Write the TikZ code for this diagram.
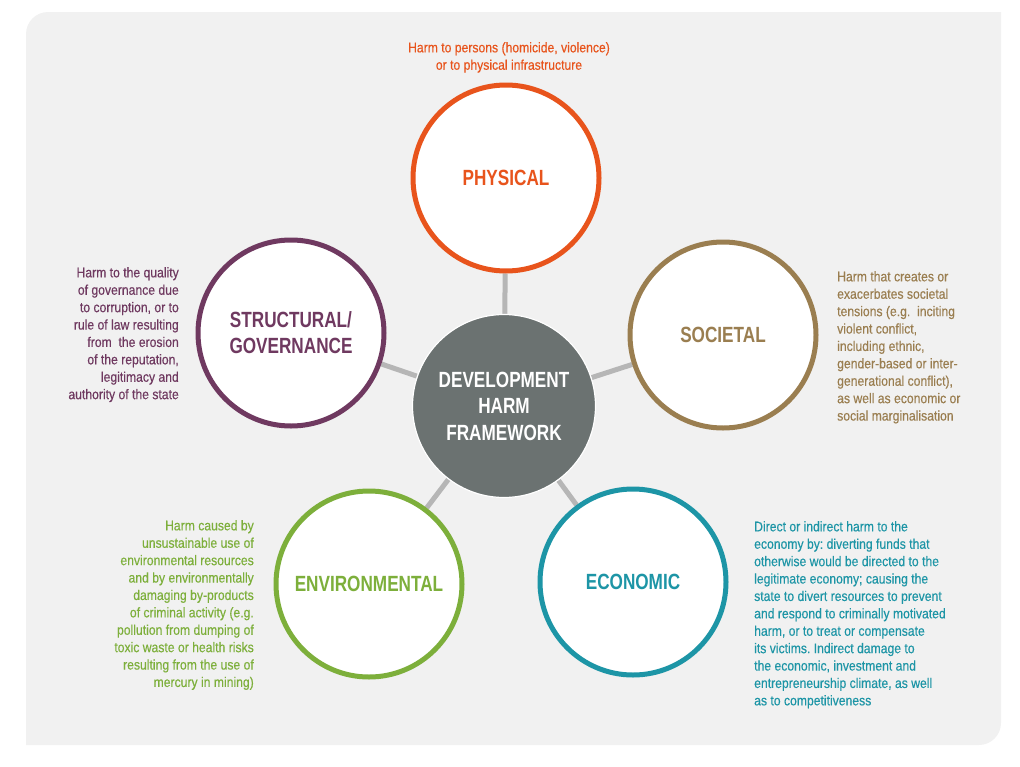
\documentclass[tikz,border=0pt]{standalone}
\usepackage{fontspec}
\setmainfont{Liberation Sans}[FakeStretch=0.87,FakeBold=0.35]
\newfontfamily\titlefont{Liberation Sans}[FakeStretch=0.78]
\usetikzlibrary{backgrounds}
\pgfdeclarelayer{back}
\pgfsetlayers{back,background,main}
\definecolor{bgcol}{HTML}{F1F1F1}
\definecolor{physcol}{HTML}{E8541C}
\definecolor{soccol}{HTML}{9A7E50}
\definecolor{ecocol}{HTML}{1D95A6}
\definecolor{envcol}{HTML}{7DAF3B}
\definecolor{strcol}{HTML}{6F3960}
\definecolor{midcol}{HTML}{6B7271}
\definecolor{spokecol}{HTML}{B6B6B6}
\frenchspacing
\begin{document}
\begin{tikzpicture}[x=1pt,y=-1pt,
  ring/.style={circle, draw=#1, text=#1, line width=5pt, fill=white,
    minimum size=186pt, inner sep=0pt, align=center,
    font=\titlefont\bfseries\fontsize{22}{26}\selectfont},
  hub/.style={circle, draw=white, fill=midcol, text=white, line width=1.2pt,
    minimum size=183pt, inner sep=0pt, align=center,
    font=\titlefont\bfseries\fontsize{22}{26.5}\selectfont},
  desc/.style={text=#1, inner sep=0pt, font=\fontsize{14}{17.4}\selectfont},
  spoke/.style={draw=spokecol, line width=5pt}]
\useasboundingbox (0,0) rectangle (1020,766);
\begin{pgfonlayer}{back}
\fill[bgcol] (26,745) -- (26,34) .. controls (26,21.85) and (35.85,12) .. (48,12)
  -- (1001,12) -- (1001,723) .. controls (1001,735.15) and (991.15,745) .. (979,745) -- cycle;
\end{pgfonlayer}

\node[hub] (c) at (504,406) {DEVELOPMENT\\HARM\\FRAMEWORK};
\node[ring=physcol] (p) at (506,178) {PHYSICAL};
\node[ring=soccol] (s) at (723,335) {SOCIETAL};
\node[ring=ecocol] (e) at (633,582) {ECONOMIC};
\node[ring=envcol] (v) at (369,584) {ENVIRONMENTAL};
\node[ring=strcol] (g) at (291,333) {STRUCTURAL/\\GOVERNANCE};

\begin{scope}[on background layer]
\draw[spoke] (c) -- (p);
\draw[spoke] (c) -- (s);
\draw[spoke] (c) -- (e);
\draw[spoke] (c) -- (v);
\draw[spoke] (c) -- (g);
\end{scope}

\node[desc=physcol, anchor=north, align=center] (pd) at (509,42)
  {Harm to persons (homicide, violence)\\or to physical infrastructure};
\node[desc=strcol, anchor=north east, align=right] (gd) at (179,267)
  {Harm to the quality\\of governance due\\to corruption, or to\\rule of law resulting\\from~ the erosion\\of the reputation,\\legitimacy and\\authority of the state};
\node[desc=soccol, anchor=north west, align=left] (sd) at (837,271)
  {Harm that creates or\\exacerbates societal\\tensions (e.g.~ inciting\\violent conflict,\\including ethnic,\\gender-based or inter-\\generational conflict),\\as well as economic or\\social marginalisation};
\node[desc=envcol, anchor=north east, align=right] (vd) at (254,520)
  {Harm caused by\\unsustainable use of\\environmental resources\\and by environmentally\\damaging by-products\\of criminal activity (e.g.\\pollution from dumping of\\toxic waste or health risks\\resulting from the use of\\mercury in mining)};
\node[desc=ecocol, anchor=north west, align=left] (ed) at (754,521)
  {Direct or indirect harm to the\\economy by: diverting funds that\\otherwise would be directed to the\\legitimate economy; causing the\\state to divert resources to prevent\\and respond to criminally motivated\\harm, or to treat or compensate\\its victims. Indirect damage to\\the economic, investment and\\entrepreneurship climate, as well\\as to competitiveness};
\end{tikzpicture}
\end{document}
